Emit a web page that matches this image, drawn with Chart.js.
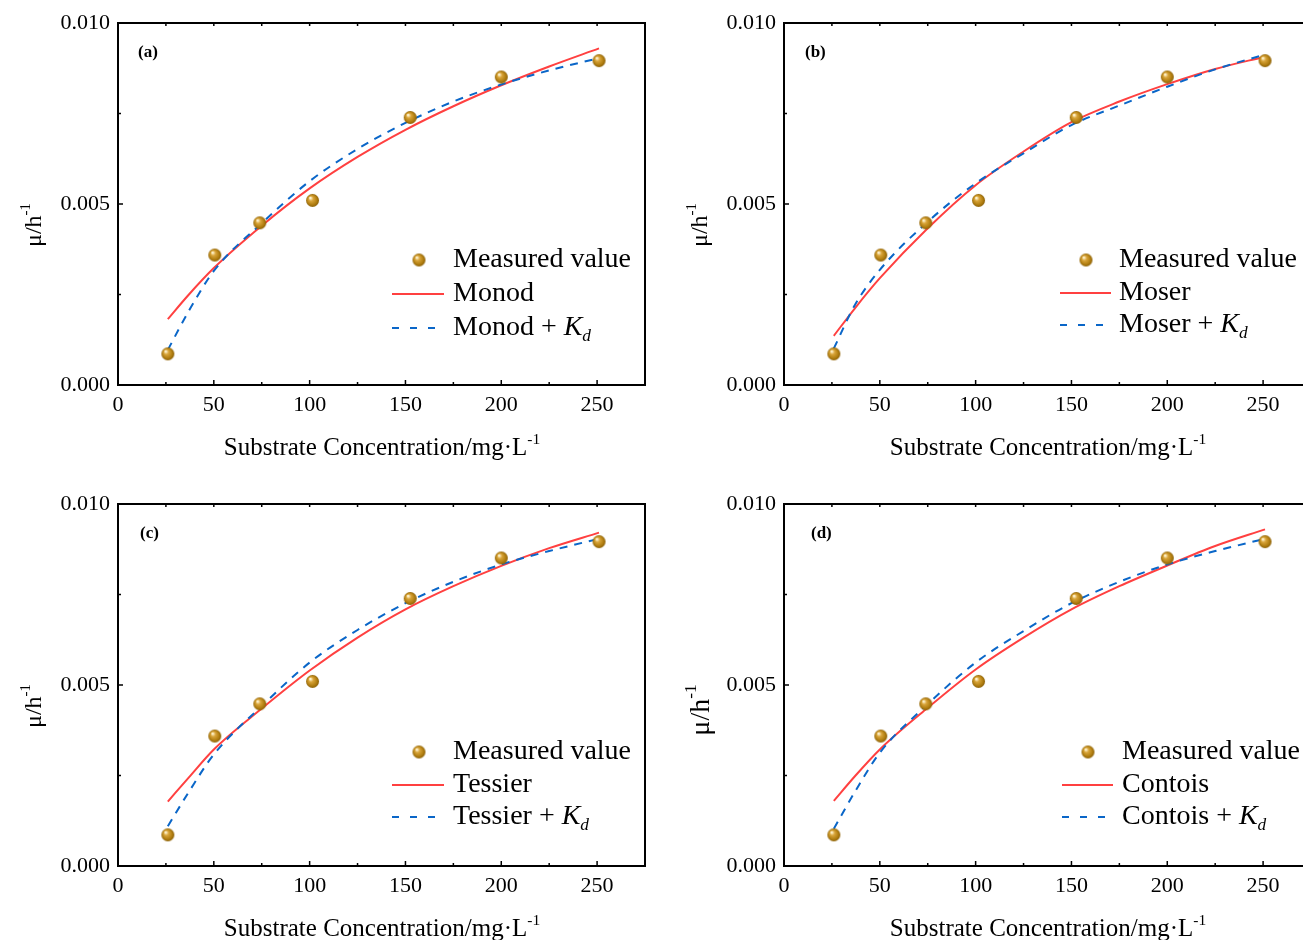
<!DOCTYPE html>
<html>
<head>
<meta charset="utf-8">
<script src="https://cdn.jsdelivr.net/npm/chart.js@4"></script>
<style>
  html, body { margin: 0; padding: 0; background: #fff; overflow: hidden; width: 1303px; height: 940px; }
  canvas { position: absolute; }
</style>
</head>
<body>
<canvas id="pa" width="666" height="481" style="left:0;top:0"></canvas>
<canvas id="pb" width="666" height="481" style="left:666px;top:0"></canvas>
<canvas id="pc" width="666" height="481" style="left:0;top:481px"></canvas>
<canvas id="pd" width="666" height="481" style="left:666px;top:481px"></canvas>
<script>
// ---- data ----
const measuredX = [26, 50.5, 74, 101.5, 152.5, 200, 251];
const measuredY = [0.00086, 0.00359, 0.00448, 0.0051, 0.00739, 0.00851, 0.00896];

const curveX = [26, 37, 50, 75, 100, 125, 150, 175, 200, 225, 251];
const monodY     = [0.00182, 0.0025, 0.00323, 0.0044, 0.00543, 0.0063, 0.00705, 0.0077, 0.00828, 0.0088, 0.0093];
const monodKdY   = [0.00097, 0.00205, 0.00315, 0.00447, 0.00563, 0.00652, 0.00724, 0.00783, 0.0083, 0.00869, 0.00903];
const moserY     = [0.00136, 0.00212, 0.00295, 0.00433, 0.00552, 0.00645, 0.00726, 0.00783, 0.00831, 0.00873, 0.00907];
const moserKdY   = [0.00101, 0.00221, 0.00318, 0.00451, 0.00557, 0.0064, 0.00718, 0.00772, 0.00824, 0.00872, 0.00913];
const tessierY   = [0.00178, 0.00245, 0.00322, 0.00435, 0.0054, 0.00631, 0.00709, 0.00773, 0.00829, 0.00878, 0.00921];
const tessierKdY = [0.0011, 0.00205, 0.00308, 0.00442, 0.00562, 0.00652, 0.00726, 0.00785, 0.00833, 0.0087, 0.00904];
const contoisY   = [0.0018, 0.00248, 0.00322, 0.00437, 0.00543, 0.00631, 0.00709, 0.00773, 0.0083, 0.00884, 0.0093];
const contoisKdY = [0.00103, 0.00205, 0.00313, 0.00447, 0.00562, 0.00649, 0.00726, 0.00785, 0.00833, 0.0087, 0.00904];

const xTicks = [0, 50, 100, 150, 200, 250];
const xMinor = [25, 75, 125, 175, 225];
const yTicks = [0, 0.005, 0.01];
const yMinor = [0.0025, 0.0075];

const SERIF = '"Liberation Serif", "Times New Roman", serif';
const RED = "#ff4040";
const BLUE = "#0a66c8";
const DASH = [8, 7];

// gold sphere marker
function makeBall(r) {
  const c = document.createElement("canvas");
  c.width = c.height = r * 2 + 2;
  const g = c.getContext("2d");
  const cx = r + 1;
  const grad = g.createRadialGradient(cx - r * 0.35, cx - r * 0.4, r * 0.1, cx, cx, r);
  grad.addColorStop(0, "#fff4d0");
  grad.addColorStop(0.3, "#d9a53a");
  grad.addColorStop(0.75, "#b07d10");
  grad.addColorStop(1, "#8a5f05");
  g.fillStyle = grad;
  g.beginPath();
  g.arc(cx, cx, r, 0, Math.PI * 2);
  g.fill();
  return c;
}
const ball = makeBall(6.5);

// text with superscript / subscript pieces
function drawRich(ctx, parts, x, y, size) {
  let cx = x;
  parts.forEach(p => {
    const s = p.sup || p.sub ? size * 0.62 : size;
    ctx.font = (p.italic ? "italic " : "") + s + "px " + SERIF;
    const dy = p.sup ? -size * 0.45 : p.sub ? size * 0.3 : 0;
    ctx.fillText(p.t, cx, y + dy);
    cx += ctx.measureText(p.t).width;
  });
  return cx - x;
}
function richWidth(ctx, parts, size) {
  let w = 0;
  parts.forEach(p => {
    const s = p.sup || p.sub ? size * 0.62 : size;
    ctx.font = (p.italic ? "italic " : "") + s + "px " + SERIF;
    w += ctx.measureText(p.t).width;
  });
  return w;
}

const decor = {
  id: "decor",
  afterDraw(chart, args, o) {
    const ctx = chart.ctx;
    const a = chart.chartArea;
    const xs = chart.scales.x, ys = chart.scales.y;
    ctx.save();
    ctx.strokeStyle = "#000";
    ctx.lineWidth = 2;
    ctx.strokeRect(a.left, a.top, a.right - a.left, a.bottom - a.top);
    ctx.lineWidth = 1.5;
    ctx.beginPath();
    xTicks.forEach(v => {
      const px = xs.getPixelForValue(v);
      ctx.moveTo(px, a.bottom); ctx.lineTo(px, a.bottom - 5);
      ctx.moveTo(px, a.top); ctx.lineTo(px, a.top + 3);
    });
    xMinor.forEach(v => {
      const px = xs.getPixelForValue(v);
      ctx.moveTo(px, a.bottom); ctx.lineTo(px, a.bottom - 3);
      ctx.moveTo(px, a.top); ctx.lineTo(px, a.top + 3);
    });
    yTicks.forEach(v => {
      const py = ys.getPixelForValue(v);
      ctx.moveTo(a.left, py); ctx.lineTo(a.left + 5, py);
    });
    yMinor.forEach(v => {
      const py = ys.getPixelForValue(v);
      ctx.moveTo(a.left, py); ctx.lineTo(a.left + 3, py);
    });
    ctx.stroke();

    ctx.fillStyle = "#000";
    // panel label
    ctx.font = "bold 17px " + SERIF;
    ctx.textBaseline = "middle";
    ctx.textAlign = "left";
    ctx.fillText(o.tag, a.left + o.tagDx, a.top + 30);

    // x title
    const xt = [{ t: "Substrate Concentration/mg\u00b7L" }, { t: "-1", sup: true }];
    const xw = richWidth(ctx, xt, 25);
    ctx.textBaseline = "alphabetic";
    drawRich(ctx, xt, 382 - xw / 2, 455, 25);

    // y title (rotated)
    const yt = [{ t: "\u03bc/h" }, { t: "-1", sup: true }];
    const yw = richWidth(ctx, yt, o.ySize);
    ctx.save();
    ctx.translate(o.ytX, o.ytY);
    ctx.rotate(-Math.PI / 2);
    drawRich(ctx, yt, -yw / 2, 0, o.ySize);
    ctx.restore();

    // legend
    const L = o.leg;
    ctx.drawImage(ball, L.mx - 7.5, L.rows[0] - 7.5);
    ctx.strokeStyle = RED;
    ctx.lineWidth = 2;
    ctx.beginPath();
    ctx.moveTo(L.l0, L.rows[1]); ctx.lineTo(L.l1, L.rows[1]);
    ctx.stroke();
    ctx.strokeStyle = BLUE;
    ctx.setLineDash([7, 11]);
    ctx.beginPath();
    ctx.moveTo(L.l0, L.rows[2]); ctx.lineTo(L.l1 + 2, L.rows[2]);
    ctx.stroke();
    ctx.setLineDash([]);
    ctx.textBaseline = "middle";
    ctx.fillStyle = "#000";
    drawRich(ctx, [{ t: "Measured value" }], L.tx, L.rows[0], 28);
    drawRich(ctx, [{ t: o.model }], L.tx, L.rows[1], 28);
    drawRich(ctx, [{ t: o.model + " + " }, { t: "K", italic: true }, { t: "d", italic: true, sub: true }], L.tx, L.rows[2], 28);
    ctx.restore();
  }
};

function makePanel(id, fitY, fitKdY, opts) {
  new Chart(document.getElementById(id), {
    type: "scatter",
    data: {
      datasets: [
        {
          label: opts.model + " + Kd",
          data: curveX.map((x, i) => ({ x: x, y: fitKdY[i] })),
          showLine: true,
          borderColor: BLUE,
          borderWidth: 2,
          borderDash: DASH,
          pointRadius: 0,
          cubicInterpolationMode: "monotone",
          order: 2
        },
        {
          label: opts.model,
          data: curveX.map((x, i) => ({ x: x, y: fitY[i] })),
          showLine: true,
          borderColor: RED,
          borderWidth: 2,
          pointRadius: 0,
          cubicInterpolationMode: "monotone",
          order: 3
        },
        {
          label: "Measured value",
          data: measuredX.map((x, i) => ({ x: x, y: measuredY[i] })),
          pointStyle: ball,
          pointRadius: 6.5,
          order: 1
        }
      ]
    },
    options: {
      responsive: false,
      animation: false,
      events: [],
      layout: { padding: { left: 0, top: 23, right: 21, bottom: 0 } },
      plugins: { legend: { display: false }, tooltip: { enabled: false }, decor: opts },
      scales: {
        x: {
          type: "linear",
          min: 0,
          max: 275,
          afterBuildTicks: s => { s.ticks = xTicks.map(v => ({ value: v })); },
          afterFit: s => { s.height = 96; },
          grid: { display: false, drawTicks: false, tickLength: 0 },
          border: { display: false },
          ticks: { color: "#000", padding: 7, font: { family: SERIF, size: 22 }, maxRotation: 0 }
        },
        y: {
          min: 0,
          max: 0.01,
          afterBuildTicks: s => { s.ticks = yTicks.map(v => ({ value: v })); },
          afterFit: s => { s.width = 118; },
          grid: { display: false, drawTicks: false, tickLength: 0 },
          border: { display: false },
          ticks: { color: "#000", padding: 8, font: { family: SERIF, size: 22 }, callback: v => v.toFixed(3) }
        }
      }
    },
    plugins: [decor]
  });
}

makePanel("pa", monodY, monodKdY, { tag: "(a)", tagDx: 20, model: "Monod", ySize: 24, ytX: 41, ytY: 225,
  leg: { mx: 419, rows: [260, 294, 328], l0: 392, l1: 444, tx: 453 } });
makePanel("pb", moserY, moserKdY, { tag: "(b)", tagDx: 21, model: "Moser", ySize: 24, ytX: 41, ytY: 225,
  leg: { mx: 420, rows: [260, 293, 325], l0: 394, l1: 445, tx: 453 } });
makePanel("pc", tessierY, tessierKdY, { tag: "(c)", tagDx: 22, model: "Tessier", ySize: 24, ytX: 41, ytY: 225,
  leg: { mx: 419, rows: [271, 304, 336], l0: 392, l1: 444, tx: 453 } });
makePanel("pd", contoisY, contoisKdY, { tag: "(d)", tagDx: 27, model: "Contois", ySize: 28, ytX: 43, ytY: 229,
  leg: { mx: 422, rows: [271, 304, 336], l0: 396, l1: 447, tx: 456 } });
</script>
</body>
</html>
